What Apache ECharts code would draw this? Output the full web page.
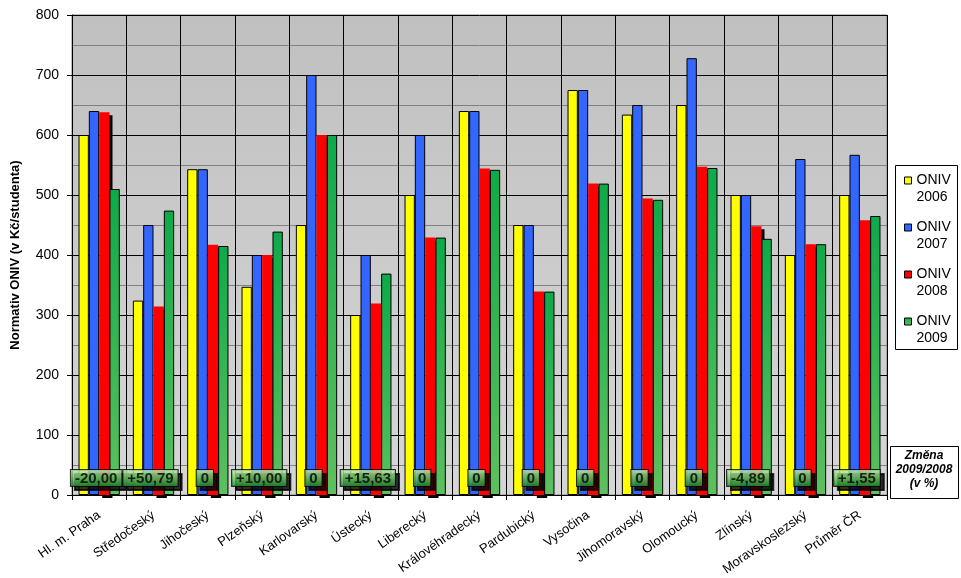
<!DOCTYPE html>
<html>
<head>
<meta charset="utf-8">
<script src="https://cdn.jsdelivr.net/npm/echarts@6/dist/echarts.min.js"></script>
<style>html,body{margin:0;padding:0;background:#fff;}#c{width:961px;height:578px;}</style>
</head>
<body>
<div id="c"></div>
<script>
const categories = ['Hl. m. Praha','Středočeský','Jihočeský','Plzeňský','Karlovarský','Ústecký','Liberecký','Královéhradecký','Pardubický','Vysočina','Jihomoravský','Olomoucký','Zlínský','Moravskoslezský','Průměr ČR'];
const seriesNames = ['ONIV 2006','ONIV 2007','ONIV 2008','ONIV 2009'];
const oniv2006 = [600, 324, 543, 347, 450, 300, 500, 640, 450, 675, 634, 650, 500, 400, 500];
const oniv2007 = [640, 450, 543, 400, 700, 400, 600, 640, 450, 675, 650, 728, 500, 560, 567];
const oniv2008 = [638, 314, 417, 400, 600, 319, 429, 544, 339, 519, 494, 547, 448, 418, 458];
const oniv2009 = [510, 474, 415, 439, 600, 369, 429, 542, 339, 519, 492, 545, 427, 418, 465];
const changes = ['-20,00','+50,79','0','+10,00','0','+15,63','0','0','0','0','0','0','-4,89','0','+1,55'];
const yTicks = [0,100,200,300,400,500,600,700,800];

const FONT = 'Arial, "Liberation Sans", sans-serif';
const G = echarts.graphic.LinearGradient;
const chart = echarts.init(document.getElementById('c'), null, {renderer: 'canvas'});

const colors = [
  '#FFFF00',
  '#3366FF',
  '#FF0000',
  new G(0, 0, 0, 1, [{offset: 0, color: '#0DAA4A'}, {offset: 1, color: '#5EC05E'}])
];
const vals = [oniv2006, oniv2007, oniv2008, oniv2009];
const barSeries = vals.map((v, i) => {
  const s = {
    type: 'bar', barGap: '0%', barCategoryGap: '24%',
    name: seriesNames[i],
    data: v,
    itemStyle: {color: colors[i], borderColor: '#000', borderWidth: 1}
  };
  if (i === 2) {
    s.itemStyle.borderWidth = 0;
    s.itemStyle.shadowColor = '#000';
    s.itemStyle.shadowOffsetX = 3;
    s.itemStyle.shadowOffsetY = 3;
    s.itemStyle.shadowBlur = 0;
  }
  return s;
});

const labelSeries = {
  type: 'scatter',
  name: 'change',
  symbol: 'rect',
  symbolSize: 1,
  itemStyle: {color: 'rgba(0,0,0,0)'},
  z: 5,
  silent: true,
  emphasis: {disabled: true},
  data: changes.map((c, i) => [i, 0]),
  label: {
    show: true,
    position: 'inside',
    offset: [-3, -17],
    formatter: p => '{b|' + changes[p.dataIndex] + '}',
    rich: {
      b: {
        color: '#000',
        fontFamily: FONT,
        fontSize: 15,
        lineHeight: 15,
        fontWeight: 'bold',
        padding: [1, 4, 0, 4],
        borderColor: '#000',
        borderWidth: 1,
        backgroundColor: new G(0, 0, 0, 1, [{offset: 0, color: '#CDF5BE'}, {offset: 0.5, color: '#72CC68'}, {offset: 1, color: '#1C8C30'}]),
        shadowColor: '#000',
        shadowOffsetX: 4,
        shadowOffsetY: 4,
        shadowBlur: 0
      }
    }
  }
};

chart.setOption({
  animation: false,
  textStyle: {fontFamily: FONT},
  grid: {
    left: 72, right: 74, top: 15, bottom: 83,
    show: true,
    borderColor: '#808080', borderWidth: 1,
    backgroundColor: new G(0, 0, 0, 1, [{offset: 0, color: '#C0C0C0'}, {offset: 1, color: '#D6D6D6'}])
  },
  legend: {
    data: seriesNames,
    orient: 'vertical',
    left: 904, top: 155,
    padding: 0,
    itemWidth: 7, itemHeight: 7,
    itemGap: -4,
    icon: 'rect',
    itemStyle: {borderColor: '#000', borderWidth: 1},
    formatter: n => '\n' + n.replace(' ', '\n'),
    textStyle: {fontFamily: FONT, fontSize: 14, lineHeight: 17, color: '#000'}
  },
  xAxis: {
    type: 'category',
    data: categories,
    boundaryGap: true,
    axisLine: {lineStyle: {color: '#000', width: 1}},
    axisTick: {show: true, length: 5, lineStyle: {color: '#000'}},
    splitLine: {show: true, lineStyle: {color: '#000', width: 1}},
    axisLabel: {interval: 0, rotate: 35, margin: 19, fontFamily: FONT, fontSize: 13, color: '#000'}
  },
  yAxis: {
    type: 'value',
    min: yTicks[0], max: yTicks[yTicks.length - 1], interval: 100,
    name: 'Normativ ONIV (v Kč/studenta)',
    nameLocation: 'middle',
    nameGap: 50,
    nameTextStyle: {fontFamily: FONT, fontSize: 13, fontWeight: 'bold', color: '#000'},
    axisLine: {show: true, lineStyle: {color: '#000', width: 1}},
    axisTick: {show: true, length: 5, lineStyle: {color: '#000'}},
    axisLabel: {margin: 13, fontFamily: FONT, fontSize: 14, color: '#000'},
    splitLine: {show: true, lineStyle: {color: '#000', width: 1}},
    minorTick: {show: false, splitNumber: 2},
    minorSplitLine: {show: true, lineStyle: {color: '#808080', width: 1}}
  },
  graphic: [
    {type: 'rect', left: 895, top: 165, z: -1, shape: {width: 62, height: 184}, style: {fill: '#fff', stroke: '#000', lineWidth: 1}},
    {type: 'rect', left: 890, top: 446, shape: {width: 68, height: 52}, style: {fill: '#fff', stroke: '#000', lineWidth: 1}},
    {type: 'text', x: 924, y: 449, style: {text: 'Změna\n2009/2008\n(v %)', align: 'center', verticalAlign: 'top', font: 'italic bold 12px ' + FONT, lineHeight: 14, fill: '#000'}}
  ],
  series: barSeries.concat([labelSeries])
});
</script>
</body>
</html>
